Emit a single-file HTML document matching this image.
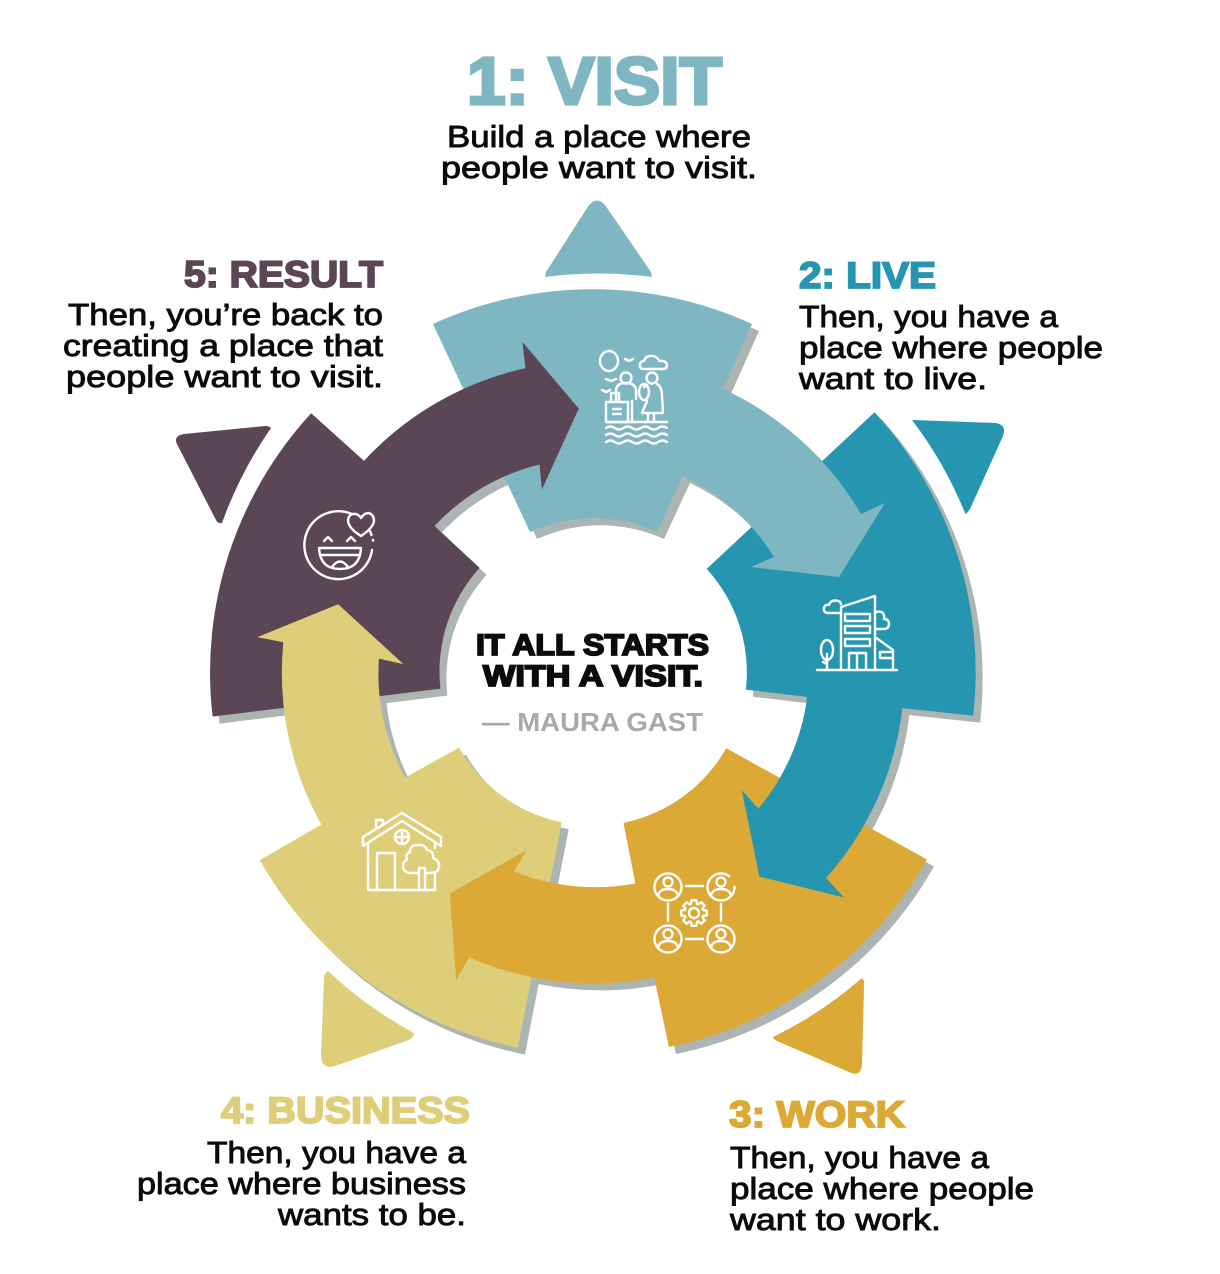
<!DOCTYPE html>
<html lang="en">
<head>
<meta charset="utf-8">
<title>It all starts with a visit</title>
<style>
html,body{margin:0;padding:0;background:#fff;width:1220px;height:1274px;overflow:hidden}
svg{display:block}
text{font-family:"Liberation Sans",sans-serif}
.h{font-weight:bold;stroke-width:1.8px}
.b{font-size:31px;fill:#0b0b0b;stroke:#0b0b0b;stroke-width:.9px}
.i{fill:none;stroke:#fff;stroke-width:2.4;stroke-linecap:round;stroke-linejoin:round}
</style>
</head>
<body>
<svg width="1220" height="1274" viewBox="0 0 1220 1274" xmlns="http://www.w3.org/2000/svg">
<defs>
<path id="s" d="M433,324 A383,383 0 0 1 752,324 L723,389 A311,311 0 0 1 861,514 L885,503 L839,577 L751,567 L774,557 A215,215 0 0 0 683,476 L657,532 A154,154 0 0 0 530,532 Z"/>
<path id="a" d="M723,389 A311,311 0 0 1 861,514 L885,503 L839,577 L751,567 L774,557 A215,215 0 0 0 683,476 Z"/>
</defs>

<!-- triangles -->
<path fill="#7eb7c2" d="M545,277 L546,272 L589,205 Q597,196 605,205 L651,272 L652,277 Q598,270 545,277 Z"/>
<path fill="#2696b0" d="M912,420 L996,423 Q1007,425 1003,436 L970,509 Q965,516 965,513 A405,405 0 0 0 912,420 Z"/>
<path fill="#dda936" d="M862,978 Q865,981 864,985 L862,1064 Q861,1078 849,1072 L777,1041 Q773,1039 773,1037 A405,405 0 0 0 862,978 Z"/>
<path fill="#dfce79" d="M328,971 Q324,974 324,978 L321,1056 Q322,1070 335,1066 L409,1040 Q414,1037 414,1033 A405,405 0 0 1 328,971 Z"/>
<path fill="#5b4655" d="M265,426 Q269,426 271,428 A405,405 0 0 0 222,523 Q218,524 216,520 L178,446 Q172,436 184,434 Z"/>

<!-- shadows -->
<g fill="#adb5b2" transform="translate(7,7)">
<use href="#s"/>
<use href="#s" transform="rotate(72 593 672)"/>
<use href="#s" transform="rotate(144 593 672)"/>
<use href="#s" transform="rotate(216 593 672)"/>
<use href="#s" transform="rotate(288 593 672)"/>
</g>

<!-- full shapes -->
<use href="#s" fill="#7eb7c2"/>
<use href="#s" fill="#2696b0" transform="rotate(72 593 672)"/>
<use href="#s" fill="#dda936" transform="rotate(144 593 672)"/>
<use href="#s" fill="#dfce79" transform="rotate(216 593 672)"/>
<use href="#s" fill="#5b4655" transform="rotate(288 593 672)"/>

<!-- arrows on top (cyclic overlap) -->
<use href="#a" fill="#7eb7c2"/>
<use href="#a" fill="#2696b0" transform="rotate(72 593 672)"/>
<use href="#a" fill="#dda936" transform="rotate(144 593 672)"/>
<use href="#a" fill="#dfce79" transform="rotate(216 593 672)"/>
<use href="#a" fill="#5b4655" transform="rotate(288 593 672)"/>

<!-- visit icon -->
<g class="i">
<ellipse cx="609" cy="361" rx="9" ry="10"/>
<path d="M625,359 l4,2 l4,-2 M606,379 l5,2 l5,-2 M602,390 l4,2 l4,-2"/>
<path d="M643,369 q-4,-1 -3,-5 q1,-3 4,-3 q2,-6 9,-5 q5,1 6,5 q7,-1 8,4 q0,4 -4,4 Z"/>
<circle cx="626" cy="378" r="5.5"/>
<path d="M616,402 v-11 q0,-8 10,-8 q10,0 10,8 v8 M632,401 v21"/>
<rect x="606" y="402" width="22" height="20"/>
<path d="M611,402 v-9 h8 v9 M613,409 h8 M613,414 h8"/>
<circle cx="652" cy="378" r="5.5"/>
<path d="M647,385 q-2,1 -3,2 M657,384 q5,3 5,12 l1,17 h-21 l5,-12 M648,413 v9 M654,413 v9"/>
<ellipse cx="644" cy="392" rx="5" ry="8"/>
<path d="M606,422 h61"/>
<path d="M606,428 q4.3,-3 8.7,0 t8.7,0 t8.7,0 t8.7,0 t8.7,0 t8.7,0 t8.7,0 M606,435 q4.3,-3 8.7,0 t8.7,0 t8.7,0 t8.7,0 t8.7,0 t8.7,0 t8.7,0 M606,442 q4.3,-3 8.7,0 t8.7,0 t8.7,0 t8.7,0 t8.7,0 t8.7,0 t8.7,0"/>
</g>

<!-- live icon -->
<g class="i">
<path d="M817,670 h80"/>
<path d="M841,670 V607 L875,596 V670"/>
<rect x="845" y="614" width="25" height="7"/>
<rect x="845" y="626" width="25" height="7"/>
<rect x="845" y="639" width="25" height="7"/>
<path d="M849,669 V653 H866 V669 M857,653 V669"/>
<path d="M841,613 h-12 q-6,0 -5,-5 q1,-4 5,-3 q2,-6 9,-4 q2,0 3,3"/>
<path d="M875,613 q4,-3 8,0 q2,4 1,6 q5,0 5,5 q0,5 -5,5 h-9"/>
<path d="M875,637 L893,650 V670 M880,652 H893 V658 H880 Z"/>
<ellipse cx="827" cy="650" rx="6" ry="10"/>
<path d="M827,654 V670 M823,662 l4,2"/>
</g>

<!-- work icon -->
<g class="i">
<circle cx="668" cy="887" r="13.5"/>
<circle cx="721" cy="887" r="13.5" stroke-dasharray="72 13"/>
<circle cx="668" cy="939" r="13.5"/>
<circle cx="721" cy="939" r="13.5"/>
<circle cx="668" cy="882" r="4.5"/><path d="M658,896 q1,-7 10,-7 q9,0 10,7"/>
<circle cx="721" cy="882" r="4.5"/><path d="M711,896 q1,-7 10,-7 q9,0 10,7"/>
<circle cx="668" cy="934" r="4.5"/><path d="M658,948 q1,-7 10,-7 q9,0 10,7"/>
<circle cx="721" cy="934" r="4.5"/><path d="M711,948 q1,-7 10,-7 q9,0 10,7"/>
<path d="M686,886 h17 M686,939 h17 M668,904 v17 M721,904 v17"/>
<circle cx="694" cy="913" r="5"/>
<polygon transform="translate(694,913)" points="-2.48,-12.76 2.48,-12.76 2.94,-9.03 4.31,-8.46 7.27,-10.78 10.78,-7.27 8.46,-4.31 9.03,-2.94 12.76,-2.48 12.76,2.48 9.03,2.94 8.46,4.31 10.78,7.27 7.27,10.78 4.31,8.46 2.94,9.03 2.48,12.76 -2.48,12.76 -2.94,9.03 -4.31,8.46 -7.27,10.78 -10.78,7.27 -8.46,4.31 -9.03,2.94 -12.76,2.48 -12.76,-2.48 -9.03,-2.94 -8.46,-4.31 -10.78,-7.27 -7.27,-10.78 -4.31,-8.46 -2.94,-9.03"/>
</g>

<!-- business icon -->
<g class="i">
<path d="M363,837 L402,813 L441,837 V846 L402,821 L363,846 Z"/>
<path d="M376,827 V820 H383 V824"/>
<path d="M368,843 V890 H435 V873 M435,842 V848"/>
<path d="M377,890 V853 H395 V890"/>
<circle cx="402" cy="837" r="7"/>
<path d="M402,830 V844 M395,837 H409"/>
<path d="M419,890 V868 H425 V890 M419,873 h-9 q-7,-1 -7,-7 q0,-5 4,-6 q-2,-6 3,-8 q0,-7 8,-7 q7,-1 9,5 q7,1 6,8 q7,3 6,9 q-1,6 -8,6 h-6"/>
</g>

<!-- result icon -->
<g class="i">
<path d="M352,514 A34,34 0 1 0 372,550 M373,540 v.5 M370,531 l1.5,4"/>
<path d="M361,536 Q348,528 348,520 Q349,513 356,514 Q359,515 361,518 Q364,513 369,513 Q374,515 374,521 Q373,528 361,536 Z"/>
<path d="M324,541 l4,-4 l4,4 M347,541 l4,-4 l4,4"/>
<path d="M319,548 H361 Q360,569 340,569 Q320,569 319,548 Z"/>
<path d="M321,555 H359 M332,567 Q340,556 348,567"/>
</g>

<!-- center text -->
<text class="h" x="476" y="655" font-size="30" fill="#0b0b0b" stroke="#0b0b0b" textLength="233" lengthAdjust="spacingAndGlyphs">IT ALL STARTS</text>
<text class="h" x="483" y="686" font-size="30" fill="#0b0b0b" stroke="#0b0b0b" textLength="220" lengthAdjust="spacingAndGlyphs">WITH A VISIT.</text>
<text x="482" y="731" font-size="26" font-weight="bold" fill="#a7a9ac" textLength="221" lengthAdjust="spacingAndGlyphs">— MAURA GAST</text>

<!-- 1 -->
<text class="h" x="467" y="104" font-size="67" fill="#7eb7c2" stroke="#7eb7c2" style="stroke-width:3.2px" textLength="255" lengthAdjust="spacingAndGlyphs">1: VISIT</text>
<text class="b" x="447" y="147" textLength="304" lengthAdjust="spacingAndGlyphs">Build a place where</text>
<text class="b" x="441" y="178" textLength="316" lengthAdjust="spacingAndGlyphs">people want to visit.</text>
<!-- 2 -->
<text class="h" x="799" y="288" font-size="37" fill="#2696b0" stroke="#2696b0" textLength="137" lengthAdjust="spacingAndGlyphs">2: LIVE</text>
<text class="b" x="799" y="327" textLength="259" lengthAdjust="spacingAndGlyphs">Then, you have a</text>
<text class="b" x="799" y="358" textLength="304" lengthAdjust="spacingAndGlyphs">place where people</text>
<text class="b" x="799" y="389" textLength="188" lengthAdjust="spacingAndGlyphs">want to live.</text>
<!-- 5 -->
<text class="h" x="184" y="287" font-size="37" fill="#5b4655" stroke="#5b4655" textLength="199" lengthAdjust="spacingAndGlyphs">5: RESULT</text>
<text class="b" x="68" y="325" textLength="315" lengthAdjust="spacingAndGlyphs">Then, you’re back to</text>
<text class="b" x="63" y="356" textLength="320" lengthAdjust="spacingAndGlyphs">creating a place that</text>
<text class="b" x="66" y="387" textLength="317" lengthAdjust="spacingAndGlyphs">people want to visit.</text>
<!-- 3 -->
<text class="h" x="729" y="1127" font-size="37" fill="#dda936" stroke="#dda936" textLength="176" lengthAdjust="spacingAndGlyphs">3: WORK</text>
<text class="b" x="730" y="1168" textLength="259" lengthAdjust="spacingAndGlyphs">Then, you have a</text>
<text class="b" x="730" y="1199" textLength="304" lengthAdjust="spacingAndGlyphs">place where people</text>
<text class="b" x="730" y="1230" textLength="211" lengthAdjust="spacingAndGlyphs">want to work.</text>
<!-- 4 -->
<text class="h" x="221" y="1123" font-size="37" fill="#dfce79" stroke="#dfce79" textLength="249" lengthAdjust="spacingAndGlyphs">4: BUSINESS</text>
<text class="b" x="207" y="1163" textLength="259" lengthAdjust="spacingAndGlyphs">Then, you have a</text>
<text class="b" x="137" y="1194" textLength="329" lengthAdjust="spacingAndGlyphs">place where business</text>
<text class="b" x="278" y="1225" textLength="188" lengthAdjust="spacingAndGlyphs">wants to be.</text>
</svg>
</body>
</html>
